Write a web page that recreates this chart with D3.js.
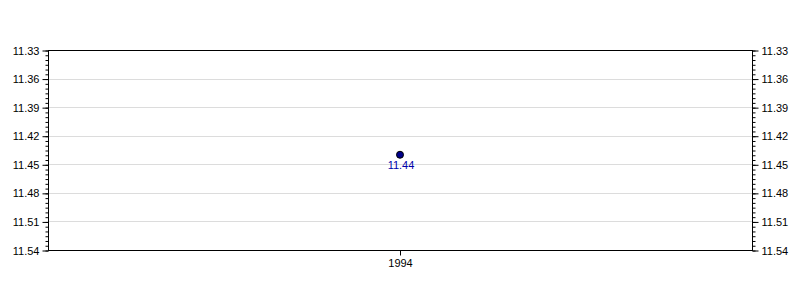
<!DOCTYPE html>
<html>
<head>
<meta charset="utf-8">
<script src="https://d3js.org/d3.v7.min.js"></script>
<style>
  body { margin: 0; background: #fff; }
  text { font-family: Arial, "Liberation Sans", sans-serif; }
</style>
</head>
<body>
<svg width="800" height="300"></svg>
<script>
// data
var years = ["1994"];
var values = [11.44];
var yTicks = [11.33, 11.36, 11.39, 11.42, 11.45, 11.48, 11.51, 11.54];

var svg = d3.select("svg");
var plotLeft = 48, plotRight = 752, plotTop = 50, plotBottom = 250;

var x = d3.scalePoint().domain(years).range([plotLeft, plotRight]).padding(0.5);
var y = d3.scaleLinear().domain([11.33, 11.54]).range([plotTop, plotBottom]);

// minor ticks every 0.005
var minor = d3.range(0, 43).map(function(i) { return +(11.33 + i * 0.005).toFixed(3); });

// grid
svg.append("g")
	.selectAll("line")
	.data(yTicks.slice(1, -1))
	.enter()
	.append("line")
	.attr("x1", plotLeft).attr("x2", plotRight)
	.attr("y1", function(d) { return Math.round(y(d)) + 0.5; })
	.attr("y2", function(d) { return Math.round(y(d)) + 0.5; })
	.style("stroke", "#dcdcdc")
	.style("stroke-width", "1px");

function styleAxis(g) {
	g.select(".domain").remove();
	g.selectAll("line").style("stroke", "#000");
	g.selectAll("text").style("font-size", "11px").style("fill", "#000");
}

// left axis
svg.append("g")
	.attr("transform", "translate(" + (plotLeft + 0.5) + ",0.5)")
	.call(d3.axisLeft(y).tickValues(minor).tickSize(3).tickFormat(""))
	.call(styleAxis);
svg.append("g")
	.attr("transform", "translate(" + (plotLeft + 0.5) + ",0.5)")
	.call(d3.axisLeft(y).tickValues(yTicks).tickSize(6).tickPadding(3).tickFormat(d3.format(".2f")))
	.call(styleAxis);

// right axis
svg.append("g")
	.attr("transform", "translate(" + (plotRight + 0.5) + ",0.5)")
	.call(d3.axisRight(y).tickValues(minor).tickSize(3).tickFormat(""))
	.call(styleAxis);
svg.append("g")
	.attr("transform", "translate(" + (plotRight + 0.5) + ",0.5)")
	.call(d3.axisRight(y).tickValues(yTicks).tickSize(6).tickPadding(3).tickFormat(d3.format(".2f")))
	.call(styleAxis);

// bottom axis
svg.append("g")
	.attr("transform", "translate(0," + (plotBottom + 0.5) + ")")
	.call(d3.axisBottom(x).tickSize(5).tickPadding(4))
	.call(styleAxis);

// frame
svg.append("rect")
	.attr("x", plotLeft + 0.5).attr("y", plotTop + 0.5)
	.attr("width", plotRight - plotLeft).attr("height", plotBottom - plotTop)
	.style("fill", "none")
	.style("stroke", "#000")
	.style("stroke-width", "1px");

// points
var pts = years.map(function(d, i) { return { year: d, value: values[i] }; });

svg.append("g")
	.selectAll("circle")
	.data(pts)
	.enter()
	.append("circle")
	.attr("cx", function(d) { return x(d.year); })
	.attr("cy", function(d) { return y(d.value); })
	.attr("r", 3.5)
	.style("fill", "#00008b")
	.style("stroke", "#000")
	.style("stroke-width", "1px");

svg.append("g")
	.selectAll("text")
	.data(pts)
	.enter()
	.append("text")
	.attr("x", function(d) { return x(d.year) + 1; })
	.attr("y", function(d) { return y(d.value) + 14; })
	.attr("text-anchor", "middle")
	.style("font-size", "11px")
	.style("fill", "#0000aa")
	.text(function(d) { return d3.format(".2f")(d.value); });
</script>
</body>
</html>
